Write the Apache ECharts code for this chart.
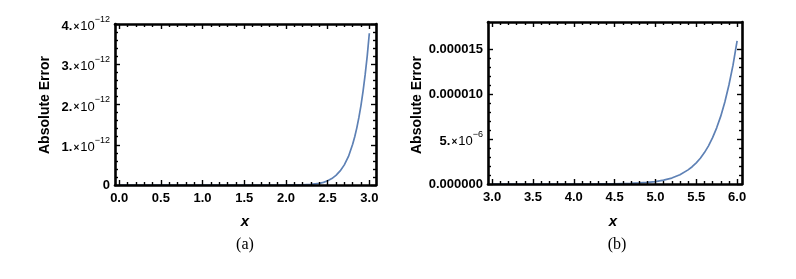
<!DOCTYPE html>
<html><head><meta charset="utf-8">
<script src="https://cdn.jsdelivr.net/npm/echarts@6/dist/echarts.min.js"></script>
<style>html,body{margin:0;padding:0;background:#fff}#c{width:796px;height:279px}</style>
</head><body><div id="c"></div>
<script>
// ---- Data ----
// Panel (a)
const xA = [0.0, 0.5, 1.0, 1.5, 2.0, 2.2, 2.3, 2.4, 2.45, 2.5, 2.55, 2.6, 2.65, 2.7, 2.75, 2.8, 2.825, 2.85, 2.875, 2.9, 2.925, 2.95, 2.975, 3.0];
const errA = [0, 0, 0, 0.00001e-12, 0.001e-12, 0.006e-12, 0.015e-12, 0.04e-12, 0.065e-12, 0.105e-12, 0.16e-12, 0.24e-12, 0.35e-12, 0.50e-12, 0.71e-12, 1.01e-12, 1.20e-12, 1.42e-12, 1.68e-12, 1.98e-12, 2.33e-12, 2.74e-12, 3.21e-12, 3.77e-12];
const xTicksA = [0.0, 0.5, 1.0, 1.5, 2.0, 2.5, 3.0];
const yTicksA = [0, 1e-12, 2e-12, 3e-12, 4e-12];
const yTickTextA = ['0', '1.|-12', '2.|-12', '3.|-12', '4.|-12'];
// Panel (b)
const xB = [3.0, 3.5, 4.0, 4.3, 4.5, 4.7, 4.8, 4.9, 5.0, 5.1, 5.2, 5.3, 5.4, 5.45, 5.5, 5.55, 5.6, 5.65, 5.7, 5.75, 5.8, 5.85, 5.9, 5.95, 6.0];
const errB = [0, 0.00003e-6, 0.002e-6, 0.01e-6, 0.028e-6, 0.07e-6, 0.117e-6, 0.18e-6, 0.26e-6, 0.43e-6, 0.66e-6, 1.03e-6, 1.57e-6, 1.92e-6, 2.35e-6, 2.86e-6, 3.49e-6, 4.24e-6, 5.15e-6, 6.24e-6, 7.54e-6, 9.11e-6, 11.0e-6, 13.2e-6, 15.9e-6];
const xTicksB = [3.0, 3.5, 4.0, 4.5, 5.0, 5.5, 6.0];
const yTicksB = [0, 5e-6, 1e-5, 1.5e-5];
const yTickTextB = ['0.000000', '5.|-6', '0.000010', '0.000015'];

// ---- helpers ----
const FONT = 'Liberation Sans, Arial, sans-serif';
function minorsOf(majors, n) {
  const out = [];
  for (let i = 0; i < majors.length - 1; i++) {
    const a = majors[i], b = majors[i + 1];
    for (let k = 1; k < n; k++) out.push(a + (b - a) * k / n);
  }
  return out;
}
function fmtLabel(ticks, texts) {
  return function (v) {
    let best = 0, bd = Infinity;
    ticks.forEach((t, i) => { const d = Math.abs(t - v); if (d < bd) { bd = d; best = i; } });
    const s = texts[best];
    if (s.indexOf('|') < 0) return s;
    const p = s.split('|');
    return '{m|' + p[0] + '}{x|\u00d7}{t|10}{s|\u2212' + p[1].replace('-', '') + '}';
  };
}
const richY = {
  m: { fontFamily: FONT, fontWeight: 'bold', fontSize: 13, color: '#000', verticalAlign: 'bottom', lineHeight: 18 },
  x: { fontFamily: FONT, fontWeight: 'bold', fontSize: 10, color: '#000', verticalAlign: 'bottom', lineHeight: 18, padding: [0, 1, 1, 1] },
  t: { fontFamily: FONT, fontWeight: 'normal', fontSize: 13, color: '#000', verticalAlign: 'bottom', lineHeight: 18 },
  s: { fontFamily: FONT, fontWeight: 'normal', fontSize: 9, color: '#000', verticalAlign: 'top', lineHeight: 18 }
};
function makeAxes(dim, grid, min, max, majors, nMinor, labelOpt) {
  const minors = minorsOf(majors, nMinor);
  const posA = dim === 'x' ? 'bottom' : 'left';
  const posB = dim === 'x' ? 'top' : 'right';
  const base = (pos, tickVals, len, showLine, lab) => ({
    type: 'value', gridIndex: grid, position: pos, min: min, max: max, z: 10,
    axisLine: { show: showLine, onZero: false, lineStyle: { color: '#000', width: 2.6 } },
    axisTick: { show: true, inside: true, length: len, customValues: tickVals, lineStyle: { color: '#000', width: 1.4 } },
    axisLabel: lab ? lab : { show: false },
    splitLine: { show: false }, minorTick: { show: false }
  });
  return [
    base(posA, majors, 5, true, labelOpt),
    base(posA, minors, 3, false, null),
    base(posB, majors, 5, true, null),
    base(posB, minors, 3, false, null)
  ];
}

const xLab = ticks => ({ show: true, customValues: ticks, margin: 7, formatter: v => v.toFixed(1),
  fontFamily: FONT, fontWeight: 'bold', fontSize: 13, color: '#000' });

const xAxes = [].concat(
  makeAxes('x', 0, -0.05, 3.08, xTicksA, 5, xLab(xTicksA)),
  makeAxes('x', 1, 2.95, 6.06, xTicksB, 5, xLab(xTicksB))
);
const yAxes = [].concat(
  makeAxes('y', 0, 0, 4e-12, yTicksA, 5, { show: true, customValues: yTicksA, margin: 5,
    formatter: fmtLabel(yTicksA, yTickTextA), rich: richY,
    fontFamily: FONT, fontWeight: 'bold', fontSize: 13, color: '#000' }),
  makeAxes('y', 1, 0, 1.8e-5, yTicksB, 5, { show: true, customValues: yTicksB, margin: 5,
    formatter: fmtLabel(yTicksB, yTickTextB), rich: richY,
    fontFamily: FONT, fontWeight: 'bold', fontSize: 13, color: '#000' })
);

const chart = echarts.init(document.getElementById('c'), null, { renderer: 'canvas' });
chart.setOption({
  animation: false,
  backgroundColor: '#fff',
  grid: [
    { left: 115, top: 24, width: 261, height: 161 },
    { left: 488, top: 22, width: 254, height: 162 }
  ],
  xAxis: xAxes,
  yAxis: yAxes,
  series: [
    { type: 'line', xAxisIndex: 0, yAxisIndex: 0, data: xA.map((x, i) => [x, errA[i]]),
      showSymbol: false, smooth: false, lineStyle: { color: '#5E81B5', width: 1.7 } },
    { type: 'line', xAxisIndex: 4, yAxisIndex: 4, data: xB.map((x, i) => [x, errB[i]]),
      showSymbol: false, smooth: false, lineStyle: { color: '#5E81B5', width: 1.7 } }
  ],
  graphic: [
    { type: 'text', x: 45, y: 105, rotation: Math.PI / 2, style: { text: 'Absolute Error', x: 0, y: 0,
      align: 'center', verticalAlign: 'middle', font: 'bold 14px ' + FONT, fill: '#000' } },
    { type: 'text', x: 417, y: 105, rotation: Math.PI / 2, style: { text: 'Absolute Error', x: 0, y: 0,
      align: 'center', verticalAlign: 'middle', font: 'bold 14px ' + FONT, fill: '#000' } },
    { type: 'text', x: 245, y: 222, style: { text: 'x', align: 'center', verticalAlign: 'middle',
      font: 'italic bold 15px ' + FONT, fill: '#000' } },
    { type: 'text', x: 613, y: 222, style: { text: 'x', align: 'center', verticalAlign: 'middle',
      font: 'italic bold 15px ' + FONT, fill: '#000' } },
    { type: 'text', x: 245, y: 245, style: { text: '(a)', align: 'center', verticalAlign: 'middle',
      font: '16px Liberation Serif, Times New Roman, serif', fill: '#000' } },
    { type: 'text', x: 617, y: 245, style: { text: '(b)', align: 'center', verticalAlign: 'middle',
      font: '16px Liberation Serif, Times New Roman, serif', fill: '#000' } }
  ]
});
</script></body></html>
